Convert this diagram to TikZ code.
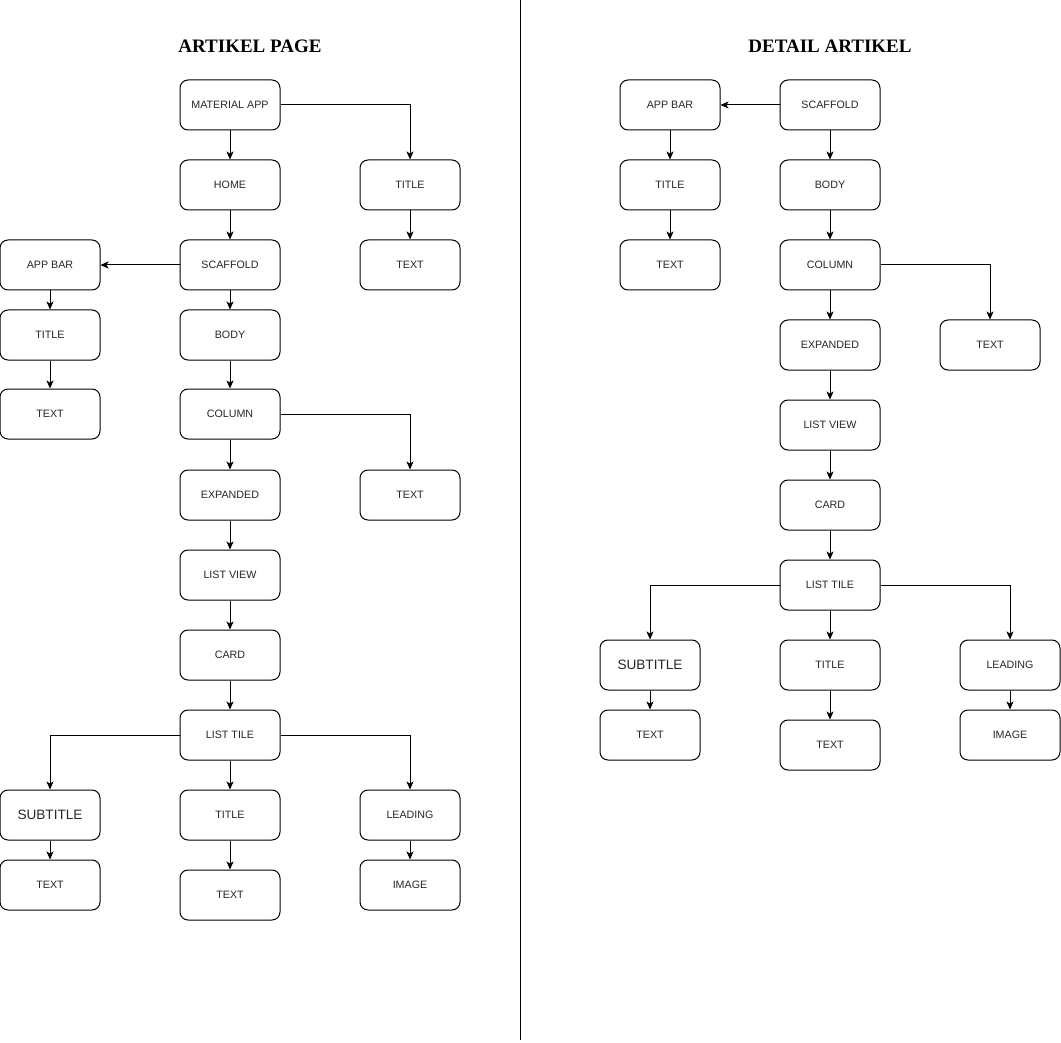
\documentclass[tikz,border=0pt]{standalone}
\usepackage{fontspec}
\setmainfont{Liberation Sans}
\newfontfamily\titlefont{Liberation Serif}
\usetikzlibrary{arrows.meta}
\begin{document}
\begin{tikzpicture}[x=1pt,y=-1pt,
  box/.style={draw,line width=1pt,rounded corners=8pt,minimum width=100pt,minimum height=50pt,inner sep=0pt,font=\fontsize{10.7}{13}\selectfont,text=black!85},
  bigbox/.style={box,font=\fontsize{13.6}{16}\selectfont},
  heading/.style={font=\titlefont\bfseries\fontsize{19}{22}\selectfont},
  arr/.style={line width=1pt,-{Stealth[length=8pt,width=7pt,inset=2pt]}}]
\useasboundingbox (0,0) rectangle (1061,1043);
\draw[line width=1pt] (520,0) -- (520,1040);
% left
\node[heading] (h1) at (250,46) {ARTIKEL PAGE};
\node[box] (ma) at (230,105) {MATERIAL APP};
\node[box] (home) at (230,185) {HOME};
\node[box] (ltitle) at (410,185) {TITLE};
\node[box] (ltext1) at (410,265) {TEXT};
\node[box] (lscaf) at (230,265) {SCAFFOLD};
\node[box] (lappbar) at (50,265) {APP BAR};
\node[box] (latitle) at (50,335) {TITLE};
\node[box] (latext) at (50,414) {TEXT};
\node[box] (lbody) at (230,335) {BODY};
\node[box] (lcol) at (230,414) {COLUMN};
\node[box] (lctext) at (410,495) {TEXT};
\node[box] (lexp) at (230,495) {EXPANDED};
\node[box] (llv) at (230,575) {LIST VIEW};
\node[box] (lcard) at (230,655) {CARD};
\node[box] (llt) at (230,735) {LIST TILE};
\node[bigbox] (lsub) at (50,815) {SUBTITLE};
\node[box] (lsubtext) at (50,885) {TEXT};
\node[box] (lttl) at (230,815) {TITLE};
\node[box] (lttltext) at (230,895) {TEXT};
\node[box] (llead) at (410,815) {LEADING};
\node[box] (limg) at (410,885) {IMAGE};
\draw[arr] (ma) -- (home);
\draw[arr] (ma.east) -| (ltitle.north);
\draw[arr] (ltitle) -- (ltext1);
\draw[arr] (home) -- (lscaf);
\draw[arr] (lscaf) -- (lappbar);
\draw[arr] (lappbar) -- (latitle);
\draw[arr] (latitle) -- (latext);
\draw[arr] (lscaf) -- (lbody);
\draw[arr] (lbody) -- (lcol);
\draw[arr] (lcol.east) -| (lctext.north);
\draw[arr] (lcol) -- (lexp);
\draw[arr] (lexp) -- (llv);
\draw[arr] (llv) -- (lcard);
\draw[arr] (lcard) -- (llt);
\draw[arr] (llt.west) -| (lsub.north);
\draw[arr] (llt.east) -| (llead.north);
\draw[arr] (llt) -- (lttl);
\draw[arr] (lsub) -- (lsubtext);
\draw[arr] (lttl) -- (lttltext);
\draw[arr] (llead) -- (limg);
% right
\node[heading] (h2) at (830,46) {DETAIL ARTIKEL};
\node[box] (rappbar) at (670,105) {APP BAR};
\node[box] (rscaf) at (830,105) {SCAFFOLD};
\node[box] (ratitle) at (670,185) {TITLE};
\node[box] (ratext) at (670,265) {TEXT};
\node[box] (rbody) at (830,185) {BODY};
\node[box] (rcol) at (830,265) {COLUMN};
\node[box] (rctext) at (990,345) {TEXT};
\node[box] (rexp) at (830,345) {EXPANDED};
\node[box] (rlv) at (830,425) {LIST VIEW};
\node[box] (rcard) at (830,505) {CARD};
\node[box] (rlt) at (830,585) {LIST TILE};
\node[bigbox] (rsub) at (650,665) {SUBTITLE};
\node[box] (rsubtext) at (650,735) {TEXT};
\node[box] (rttl) at (830,665) {TITLE};
\node[box] (rttltext) at (830,745) {TEXT};
\node[box] (rlead) at (1010,665) {LEADING};
\node[box] (rimg) at (1010,735) {IMAGE};
\draw[arr] (rscaf) -- (rappbar);
\draw[arr] (rappbar) -- (ratitle);
\draw[arr] (ratitle) -- (ratext);
\draw[arr] (rscaf) -- (rbody);
\draw[arr] (rbody) -- (rcol);
\draw[arr] (rcol.east) -| (rctext.north);
\draw[arr] (rcol) -- (rexp);
\draw[arr] (rexp) -- (rlv);
\draw[arr] (rlv) -- (rcard);
\draw[arr] (rcard) -- (rlt);
\draw[arr] (rlt.west) -| (rsub.north);
\draw[arr] (rlt.east) -| (rlead.north);
\draw[arr] (rlt) -- (rttl);
\draw[arr] (rsub) -- (rsubtext);
\draw[arr] (rttl) -- (rttltext);
\draw[arr] (rlead) -- (rimg);
\end{tikzpicture}
\end{document}
